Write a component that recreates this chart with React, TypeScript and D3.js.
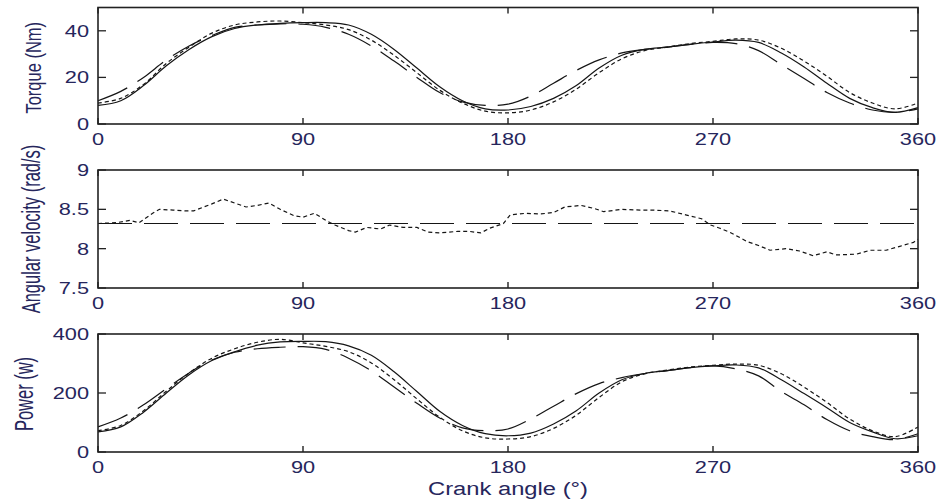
import React from "react";
import * as d3 from "d3";

// ---------- data ----------
const angles = [0,10,20,30,40,50,60,70,80,90,100,110,120,130,140,150,160,170,180,190,200,210,220,230,240,250,260,270,280,290,300,310,320,330,340,350,360];

const torqueSolid = [8,10,16.5,25,32,37.5,41,42.5,43.2,43.5,43.5,42.5,38.5,32,24,16,10,6.5,6,7.5,11,16.5,24,29.5,32,33,34.2,35.2,36,35,30.5,24.5,17.5,11,7,5,7];
const torqueDashed = [10,14,20,27.5,33.5,38,41.5,42.5,43,42.8,41.5,38.5,33.5,27,20,13.5,9.5,8,8.5,12,17.5,23,27.5,30.5,32,33,34.2,35,34.5,31.5,25.5,19.5,13.5,9,6,5,6.5];
const torqueDotted = [9,11,17,26,33,39,42.5,43.8,44.2,43.5,42.5,40.5,36,29.5,22,14.5,9,5.5,4.8,6,9.5,15,22,28,31.5,33,34.5,35.5,36.5,36,32.5,27,20.5,13.5,9,6.5,9];

const velocityAngles = [0,8,14,18,24,27,33,38,42,50,55,60,65,70,75,80,86,90,95,100,104,110,113,118,124,128,134,140,145,150,158,163,168,172,178,181,188,194,200,205,212,218,222,230,238,244,251,258,265,269,273,278,285,290,295,302,308,314,320,324,333,339,346,352,358,360];
const velocityMeasured = [8.32,8.33,8.36,8.33,8.45,8.5,8.49,8.48,8.48,8.57,8.63,8.58,8.53,8.55,8.58,8.5,8.42,8.4,8.45,8.36,8.3,8.23,8.21,8.27,8.25,8.3,8.27,8.27,8.21,8.2,8.22,8.22,8.2,8.26,8.32,8.43,8.45,8.44,8.46,8.53,8.55,8.51,8.47,8.5,8.49,8.49,8.48,8.43,8.38,8.3,8.26,8.2,8.09,8.04,7.98,8.0,7.97,7.91,7.96,7.92,7.93,7.98,7.98,8.03,8.08,8.12];
const velocityMeanAngles = [0,360];
const velocityMean = [8.32,8.32];

const powerSolid = [68,85,135,200,262,310,340,362,373,375,374,360,328,272,205,138,90,62,55,64,95,140,200,245,266,276,286,292,295,285,245,198,150,100,68,45,55];
const powerDashed = [85,115,160,215,268,312,338,350,355,357,348,318,275,220,165,115,82,72,78,112,155,198,232,252,266,276,286,292,282,258,205,160,110,72,52,42,62];
const powerDotted = [72,90,140,206,268,318,350,372,382,370,358,340,302,245,180,118,72,48,44,52,80,125,185,238,265,278,288,294,298,294,265,220,168,112,72,52,85];

const xTicks = [0,90,180,270,360];
const torqueTicks = [0,20,40];
const velocityTicks = [7.5,8,8.5,9];
const powerTicks = [0,200,400];

const xLabel = "Crank angle (°)";

// ---------- layout ----------
const W = 937, H = 503;
const X0 = 98, X1 = 918;
const TXT = "#26265c";
const INK = "#151515";
const FONT = "'Liberation Sans', Arial, sans-serif";
const STRETCH = 1.32;

const x = d3.scaleLinear().domain([0, 360]).range([X0, X1]);

type Series = { xs: number[]; ys: number[]; dash: string | null; curve: any };

const SOLID = null;
const LONG = "32,12";
const SHORT = "4,3";

const panels = [
  {
    label: "Torque (Nm)", labelX: 41, labelDy: 2, labelStretch: 1.3,
    domain: [0, 50], range: [124, 7.5], ticks: torqueTicks, xTickBase: 145,
    series: [
      { xs: angles, ys: torqueSolid, dash: SOLID, curve: d3.curveCatmullRom },
      { xs: angles, ys: torqueDashed, dash: LONG, curve: d3.curveCatmullRom },
      { xs: angles, ys: torqueDotted, dash: SHORT, curve: d3.curveCatmullRom },
    ] as Series[],
  },
  {
    label: "Angular velocity (rad/s)", labelX: 40, labelDy: 0, labelStretch: 1.55,
    domain: [7.5, 9], range: [288, 170], ticks: velocityTicks, xTickBase: 309,
    series: [
      { xs: velocityMeanAngles, ys: velocityMean, dash: "34,12", curve: d3.curveLinear },
      { xs: velocityAngles, ys: velocityMeasured, dash: SHORT, curve: d3.curveLinear },
    ] as Series[],
  },
  {
    label: "Power (w)", labelX: 33, labelDy: 1, labelStretch: 1.55,
    domain: [0, 400], range: [452, 334], ticks: powerTicks, xTickBase: 473,
    series: [
      { xs: angles, ys: powerSolid, dash: SOLID, curve: d3.curveCatmullRom },
      { xs: angles, ys: powerDashed, dash: LONG, curve: d3.curveCatmullRom },
      { xs: angles, ys: powerDotted, dash: SHORT, curve: d3.curveCatmullRom },
    ] as Series[],
  },
];

function Panel({ p }: { p: typeof panels[number] }) {
  const y = d3.scaleLinear().domain(p.domain).range(p.range);
  const yTop = p.range[1], yBot = p.range[0];
  const fontSize = 16.5;
  return (
    <g>
      {p.series.map((s, i) => {
        const pts = s.xs.map((a, k) => [a, s.ys[k]] as [number, number]);
        const line = d3.line<[number, number]>()
          .x(d => x(d[0]))
          .y(d => y(d[1]))
          .curve(s.curve);
        return (
          <path key={i} d={line(pts) || ""} fill="none" stroke={INK}
            strokeWidth={1.2} strokeDasharray={s.dash || undefined} />
        );
      })}
      {/* frame */}
      <rect x={X0} y={yTop} width={X1 - X0} height={yBot - yTop} fill="none" stroke="#222" strokeWidth={1.6} />
      {/* x ticks */}
      {xTicks.map(t => (
        <g key={"xt" + t}>
          <line x1={x(t)} x2={x(t)} y1={yBot} y2={yBot - 6} stroke="#222" strokeWidth={1.4} />
          <line x1={x(t)} x2={x(t)} y1={yTop} y2={yTop + 6} stroke="#222" strokeWidth={1.4} />
          <g transform={`translate(${x(t)},${p.xTickBase}) scale(${STRETCH},1)`}>
            <text textAnchor="middle" fontFamily={FONT} fontSize={fontSize} fill={TXT}>{String(t)}</text>
          </g>
        </g>
      ))}
      {/* y ticks */}
      {p.ticks.map(t => (
        <g key={"yt" + t}>
          <line x1={X0} x2={X0 + 8} y1={y(t)} y2={y(t)} stroke="#222" strokeWidth={1.3} />
          <line x1={X1} x2={X1 - 8} y1={y(t)} y2={y(t)} stroke="#222" strokeWidth={1.3} />
          <g transform={`translate(89,${y(t) + 6}) scale(${STRETCH},1)`}>
            <text textAnchor="end" fontFamily={FONT} fontSize={fontSize} fill={TXT}>{String(t)}</text>
          </g>
        </g>
      ))}
      {/* y label */}
      <g transform={`translate(${p.labelX},${(yTop + yBot) / 2 + p.labelDy}) scale(${p.labelStretch},1) rotate(-90)`}>
        <text textAnchor="middle" fontFamily={FONT} fontSize={16.5} fill={TXT}>{p.label}</text>
      </g>
    </g>
  );
}

export default function App() {
  return (
    <svg width={W} height={H} viewBox={`0 0 ${W} ${H}`}
      style={{ position: "absolute", left: 0, top: 0, background: "#fff" }}>
      <rect x={0} y={0} width={W} height={H} fill="#fff" />
      {panels.map((p, i) => <Panel key={i} p={p} />)}
      <g transform={`translate(${(X0 + X1) / 2},495) scale(${STRETCH},1)`}>
        <text textAnchor="middle" fontFamily={FONT} fontSize={18} fill={TXT}>{xLabel}</text>
      </g>
    </svg>
  );
}
